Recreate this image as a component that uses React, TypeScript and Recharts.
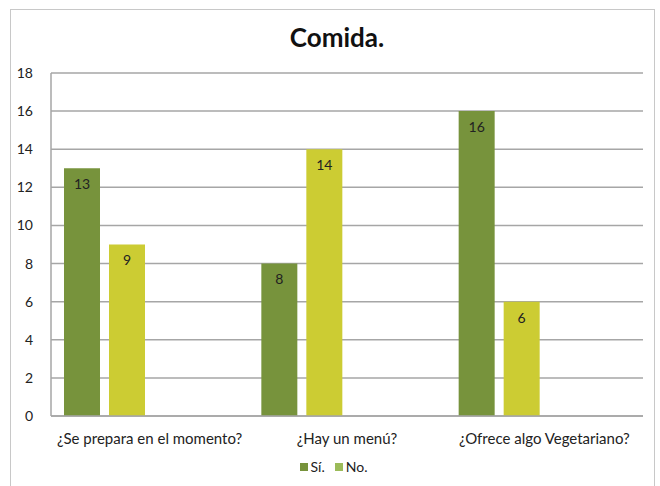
import { Bar, BarChart, CartesianGrid, LabelList, Legend, XAxis, YAxis } from "recharts"

const categories = ["¿Se prepara en el momento?", "¿Hay un menú?", "¿Ofrece algo Vegetariano?"]
const si = [13, 8, 16]
const no = [9, 14, 6]
const yTicks = [0, 2, 4, 6, 8, 10, 12, 14, 16, 18]
const legendItems = [
    { label: "Sí.", color: "#77933C" },
    { label: "No.", color: "#9BBB59" },
]

const data = categories.map((name, i) => ({ name, si: si[i], no: no[i] }))

const font = "Lato, 'Open Sans', sans-serif"

const LegendBox = () => (
    <div style={{ display: "flex", justifyContent: "center", gap: 10, paddingTop: 12, fontFamily: font, fontSize: 14, color: "#222" }}>
        {legendItems.map((item) => (
            <span key={item.label} style={{ display: "flex", alignItems: "center", gap: 3 }}>
                <span style={{ width: 8, height: 8, background: item.color, display: "inline-block" }} />
                {item.label}
            </span>
        ))}
    </div>
)

export default function App() {
    return (
        <div style={{ position: "fixed", left: 0, top: 0, width: 660, height: 486, background: "#fff", overflow: "hidden" }}>
            {/* chart frame */}
            <div style={{ position: "absolute", left: 10, top: 9, width: 645, height: 500, border: "1px solid #c8c8c8", boxSizing: "border-box" }} />
            <div style={{ position: "absolute", left: 0, top: 21, width: 674, textAlign: "center", fontFamily: font, fontWeight: 700, fontSize: 26, color: "#111" }}>
                Comida.
            </div>
            <div style={{ position: "absolute", left: 0, top: 0 }}>
                <BarChart
                    width={660}
                    height={486}
                    data={data}
                    margin={{ top: 73, right: 17, bottom: 10, left: 0 }}
                    barSize={36}
                    barGap={9}
                >
                    <CartesianGrid vertical={false} stroke="#a6a6a6" strokeWidth={1.5} />
                    <XAxis
                        dataKey="name"
                        height={30}
                        tickLine={false}
                        axisLine={{ stroke: "#a6a6a6", strokeWidth: 1.5 }}
                        tick={{ fill: "#222", fontSize: 15, fontFamily: font }}
                        tickMargin={11}
                        interval={0}
                    />
                    <YAxis
                        width={51}
                        domain={[0, 18]}
                        ticks={yTicks}
                        tickLine={false}
                        axisLine={{ stroke: "#a6a6a6", strokeWidth: 1.5 }}
                        tick={{ fill: "#222", fontSize: 14, fontFamily: font }}
                        tickMargin={12}
                    />
                    <Legend verticalAlign="bottom" height={30} content={<LegendBox />} wrapperStyle={{ left: 12 }} />
                    <Bar dataKey="si" name="Sí." fill="#77933C" isAnimationActive={false}>
                        <LabelList dataKey="si" position="insideTop" offset={11} fill="#222" fontSize={14} fontFamily={font} />
                    </Bar>
                    <Bar dataKey="no" name="No." fill="#CCCC33" isAnimationActive={false}>
                        <LabelList dataKey="no" position="insideTop" offset={11} fill="#222" fontSize={14} fontFamily={font} />
                    </Bar>
                    {/* empty series keep the bars left-aligned inside each category */}
                    <Bar dataKey="extra1" legendType="none" fill="none" isAnimationActive={false} />
                    <Bar dataKey="extra2" legendType="none" fill="none" isAnimationActive={false} />
                </BarChart>
            </div>
        </div>
    )
}
